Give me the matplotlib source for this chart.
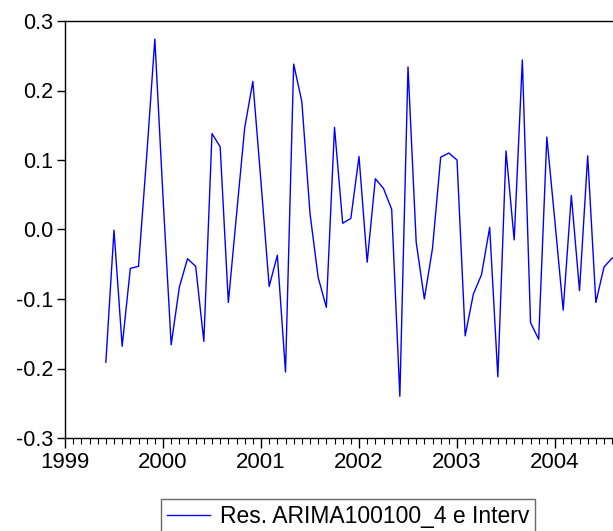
import numpy as np
import matplotlib
matplotlib.use("Agg")
import matplotlib.pyplot as plt
from matplotlib.ticker import MultipleLocator, FixedLocator

plt.rcParams["font.family"] = ["Liberation Sans", "DejaVu Sans"]
plt.rcParams["axes.unicode_minus"] = False

# monthly residuals, first obs 1999:06
start_month = 5  # months after Jan 1999
residuals = [
    -0.191, -0.001, -0.168, -0.056, -0.053, 0.105, 0.274, 0.047, -0.166, -0.083,
    -0.042, -0.053, -0.161, 0.138, 0.119, -0.105, 0.021, 0.146, 0.213,
    0.068, -0.082, -0.037, -0.205, 0.238, 0.184, 0.023, -0.069, -0.112, 0.147,
    0.009, 0.016, 0.105, -0.047, 0.073, 0.059, 0.029, -0.240, 0.234, -0.018,
    -0.100, -0.027,
    0.104, 0.110, 0.100, -0.153, -0.093, -0.065, 0.003, -0.212, 0.113, -0.015,
    0.244, -0.134, -0.158, 0.133, 0.010, -0.116, 0.049, -0.088, 0.106, -0.105,
    -0.054, -0.041, -0.045,
]
years = [1999, 2000, 2001, 2002, 2003, 2004]
series_label = "Res. ARIMA100100_4 e Interv"

W, H = 613, 531
fig = plt.figure(figsize=(W / 100, H / 100), dpi=100)
ax = fig.add_axes([65 / W, 1 - 438 / H, (W - 65) / W, (438 - 21) / H])

x = np.arange(len(residuals)) + start_month
ax.plot(x, residuals, color="#0000ff", lw=1.0, label=series_label)

ax.set_xlim(0, 67.1)
ax.set_ylim(-0.3, 0.3)
ax.xaxis.set_major_locator(FixedLocator([12 * i for i in range(len(years))]))
ax.set_xticklabels([str(y) for y in years])
ax.xaxis.set_minor_locator(MultipleLocator(1))
ax.set_yticks(np.arange(-0.3, 0.31, 0.1))
ax.set_yticklabels(["%.1f" % v for v in np.arange(-0.3, 0.31, 0.1)])

ax.spines["right"].set_visible(False)
for s in ["left", "bottom", "top"]:
    ax.spines[s].set_linewidth(1.0)
ax.tick_params(axis="x", which="major", length=7.5, width=1, pad=2.5, labelsize=16)
ax.tick_params(axis="x", which="minor", length=4.5, width=0.8)
ax.tick_params(axis="y", which="major", length=5.5, width=1, pad=3, labelsize=15.5)

leg = fig.legend(loc="upper center", bbox_to_anchor=(348 / W, 1 - 499 / H),
                 fontsize=16.5, frameon=True, fancybox=False, handlelength=1.9,
                 handletextpad=0.4, borderpad=0.25, borderaxespad=0)
leg.get_frame().set_edgecolor("#444444")
leg.get_frame().set_linewidth(1.0)

fig.savefig("out.png", dpi=100)
